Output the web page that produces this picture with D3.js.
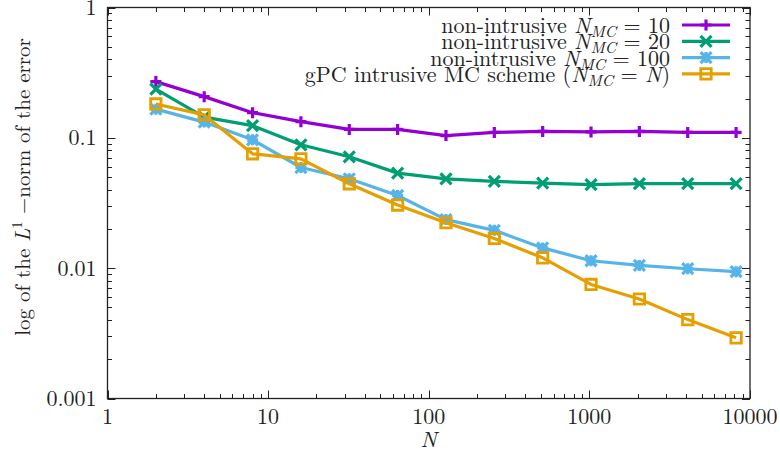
<!DOCTYPE html>
<html>
<head>
<meta charset="utf-8">
<script src="https://cdn.jsdelivr.net/npm/d3@7"></script>
<style>
  body { margin: 0; background: #fff; }
</style>
</head>
<body>
<script>
// sample sizes N = 2^1 .. 2^13
const nValues = [2, 4, 8, 16, 32, 64, 128, 256, 512, 1024, 2048, 4096, 8192];

// L1-norm of the error
const nonIntrusive10  = [0.27, 0.207, 0.156, 0.133, 0.116, 0.116, 0.104, 0.110, 0.112, 0.111, 0.112, 0.110, 0.110];
const nonIntrusive20  = [0.236, 0.144, 0.124, 0.0884, 0.0715, 0.0536, 0.0484, 0.0463, 0.045, 0.0437, 0.0445, 0.0445, 0.0445];
const nonIntrusive100 = [0.166, 0.132, 0.0966, 0.0592, 0.0485, 0.0361, 0.0236, 0.0195, 0.0143, 0.0114, 0.0105, 0.0099, 0.0094];
const intrusive       = [0.182, 0.150, 0.0754, 0.069, 0.0444, 0.0305, 0.0223, 0.0169, 0.0120, 0.0075, 0.0058, 0.00403, 0.00292];

const xTicks = [1, 10, 100, 1000, 10000];
const yTicks = [0.001, 0.01, 0.1, 1];
const xTickLabels = ["1", "10", "100", "1000", "10000"];
const yTickLabels = ["0.001", "0.01", "0.1", "1"];

const series = [
  { values: nonIntrusive10,  color: "#9400d3", marker: "plus",   label: [["non-intrusive "], ["N", "i"], ["MC", "sub"], [" = 10"]] },
  { values: nonIntrusive20,  color: "#009e73", marker: "cross",  label: [["non-intrusive "], ["N", "i"], ["MC", "sub"], [" = 20"]] },
  { values: nonIntrusive100, color: "#56b4e9", marker: "star",   label: [["non-intrusive "], ["N", "i"], ["MC", "sub"], [" = 100"]] },
  { values: intrusive,       color: "#e69f00", marker: "square", label: [["gPC intrusive MC scheme ("], ["N", "i"], ["MC", "sub"], [" = "], ["N", "i"], [")"]] }
];

const width = 780, height = 452;
const margin = { left: 107.5, right: 30, top: 7.5, bottom: 53.5 };
const FONT = "Latin Modern Roman";
const ink = "#222";
const fs = 22;

const svg = d3.select("body").append("svg")
  .attr("width", width)
  .attr("height", height);

const x = d3.scaleLog().domain([1, 10000]).range([margin.left, width - margin.right]);
const y = d3.scaleLog().domain([0.001, 1]).range([height - margin.bottom, margin.top]);

const x0 = x.range()[0], x1 = x.range()[1];
const y0 = y.range()[0], y1 = y.range()[1];

function label(g) {
  return g.append("text").attr("font-family", FONT).attr("fill", ink);
}

// minor ticks 2..9 per decade
function minorTicks(lo, hi) {
  const t = [];
  for (let d = lo; d < hi; d *= 10) {
    for (let k = 1; k < 10; k++) t.push(d * k);
  }
  t.push(hi);
  return t;
}

const ticksG = svg.append("g").attr("stroke", ink).attr("stroke-width", 1);

minorTicks(1, 10000).forEach(v => {
  const major = xTicks.includes(v);
  const len = major ? 8 : 4.5;
  const px = Math.round(x(v)) + 0.5;
  ticksG.append("line").attr("x1", px).attr("x2", px).attr("y1", y0).attr("y2", y0 - len);
  ticksG.append("line").attr("x1", px).attr("x2", px).attr("y1", y1).attr("y2", y1 + len);
});

minorTicks(0.001, 1).forEach(v => {
  const major = yTicks.some(t => Math.abs(t - v) / t < 1e-9);
  const len = major ? 8 : 4.5;
  const py = Math.round(y(v)) + 0.5;
  ticksG.append("line").attr("x1", x0).attr("x2", x0 + len).attr("y1", py).attr("y2", py);
  ticksG.append("line").attr("x1", x1).attr("x2", x1 - len).attr("y1", py).attr("y2", py);
});

// tick labels
xTicks.forEach((v, i) => {
  label(svg)
    .attr("x", x(v))
    .attr("y", y0 + 25)
    .attr("text-anchor", "middle")
    .attr("font-size", fs)
    .text(xTickLabels[i]);
});

yTicks.forEach((v, i) => {
  label(svg)
    .attr("x", x0 - 11)
    .attr("y", y(v) + 7.5)
    .attr("text-anchor", "end")
    .attr("font-size", fs)
    .text(yTickLabels[i]);
});

// axis titles
label(svg)
  .attr("x", (x0 + x1) / 2)
  .attr("y", 447)
  .attr("text-anchor", "middle")
  .attr("font-size", fs)
  .attr("font-style", "italic")
  .text("N");

const yTitle = label(svg)
  .attr("transform", "translate(30,187) rotate(-90)")
  .attr("text-anchor", "middle")
  .attr("font-size", 21);
yTitle.append("tspan").text("log of the ");
yTitle.append("tspan").attr("font-style", "italic").text("L");
yTitle.append("tspan").attr("font-size", 15).attr("dy", -8).text("1");
yTitle.append("tspan").attr("dy", 8).text(" \u2212norm of the error");

// marker shapes
function markerPath(type, s) {
  switch (type) {
    case "plus":  return `M${-s},0H${s}M0,${-s}V${s}`;
    case "cross": return `M${-s},${-s}L${s},${s}M${-s},${s}L${s},${-s}`;
    case "star":  return `M${-s},0H${s}M0,${-s}V${s}M${-s},${-s}L${s},${s}M${-s},${s}L${s},${-s}`;
    case "square": return `M${-s},${-s}H${s}V${s}H${-s}Z`;
  }
}

const line = d3.line()
  .x((d, i) => x(nValues[i]))
  .y(d => y(d));

series.forEach(s => {
  svg.append("path")
    .datum(s.values)
    .attr("fill", "none")
    .attr("stroke", s.color)
    .attr("stroke-width", 3.2)
    .attr("stroke-linejoin", "round")
    .attr("d", line);

  svg.append("g")
    .selectAll("path")
    .data(s.values)
    .join("path")
    .attr("transform", (d, i) => `translate(${x(nValues[i])},${y(d)})`)
    .attr("d", markerPath(s.marker, s.marker === "square" ? 5.2 : 5.5))
    .attr("fill", "none")
    .attr("stroke", s.color)
    .attr("stroke-width", s.marker === "square" ? 2.8 : 3.2);
});

// legend
series.forEach((s, k) => {
  const ly = 25 + k * 16.3;
  const t = label(svg)
    .attr("x", 670)
    .attr("y", ly + 8)
    .attr("text-anchor", "end")
    .attr("font-size", fs);
  let shifted = false;
  s.label.forEach(([str, kind]) => {
    const ts = t.append("tspan").text(str);
    if (kind === "i") ts.attr("font-style", "italic");
    if (kind === "sub") {
      ts.attr("font-style", "italic").attr("font-size", 16).attr("dy", 4);
      shifted = true;
    } else if (shifted) {
      ts.attr("dy", -4);
      shifted = false;
    }
  });

  svg.append("line")
    .attr("x1", 682).attr("x2", 730)
    .attr("y1", ly).attr("y2", ly)
    .attr("stroke", s.color)
    .attr("stroke-width", 3.2);
  svg.append("path")
    .attr("transform", `translate(706,${ly})`)
    .attr("d", markerPath(s.marker, s.marker === "square" ? 5.2 : 5.5))
    .attr("fill", "none")
    .attr("stroke", s.color)
    .attr("stroke-width", s.marker === "square" ? 2.8 : 3.2);
});

// frame
svg.append("rect")
  .attr("x", x0)
  .attr("y", y1)
  .attr("width", x1 - x0)
  .attr("height", y0 - y1)
  .attr("fill", "none")
  .attr("stroke", ink)
  .attr("stroke-width", 1.3);
</script>
</body>
</html>
